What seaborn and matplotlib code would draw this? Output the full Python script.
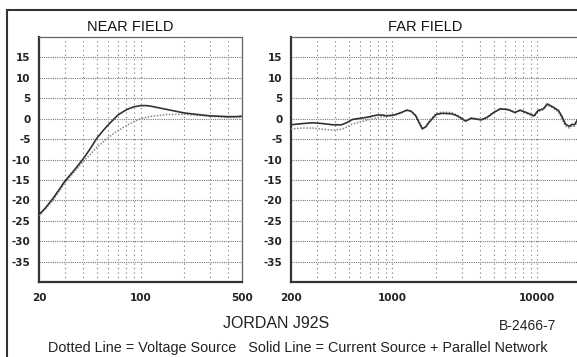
import numpy as np
import pandas as pd
import seaborn as sns
import matplotlib.pyplot as plt
from matplotlib.patches import Rectangle

# near field (20-500 Hz)
near_solid_f = [20, 22, 25, 28, 30, 35, 40, 45, 50, 55, 60, 66, 70, 80, 90, 100, 110, 120, 150, 200, 250, 300, 400, 450, 500]
near_solid_db = [-23.5, -22, -19.5, -17, -15.4, -12.6, -10, -7.4, -4.8, -3.0, -1.5, 0, 0.9, 2.2, 2.9, 3.2, 3.2, 3.0, 2.3, 1.4, 1.0, 0.7, 0.5, 0.5, 0.6]
near_dot_f = [20, 25, 30, 35, 40, 45, 50, 55, 60, 70, 80, 90, 100, 120, 150, 200, 300, 400, 500]
near_dot_db = [-23.8, -20, -15.8, -13, -10.6, -8.8, -7.0, -5.8, -4.6, -2.9, -1.7, -0.7, 0.0, 0.6, 1.0, 1.1, 0.6, 0.3, 0.3]

# far field (200-20000 Hz)
far_f = [200, 240, 283, 330, 388, 446, 490, 530, 600, 660, 720, 790, 850, 910, 1030, 1150, 1260, 1350,
         1450, 1530, 1610, 1700, 1790, 2000, 2200, 2560, 2800, 2950, 3200, 3500, 3800, 4100, 4500, 5000,
         5550, 6300, 7000, 7600, 8400, 9500, 10100, 11000, 11700, 12300, 12900, 14000, 14800, 15600,
         16600, 17300, 18000, 19000, 20000]
far_solid_db = [-1.5, -1.2, -1.0, -1.2, -1.5, -1.5, -0.9, -0.2, 0.1, 0.3, 0.6, 0.9, 0.9, 0.7, 0.9, 1.5, 2.1, 1.8,
                0.7, -1.0, -2.5, -2.0, -0.9, 1.0, 1.3, 1.2, 0.7, 0.2, -0.6, 0.1, -0.1, -0.3, 0.3, 1.5,
                2.4, 2.2, 1.5, 2.1, 1.5, 0.7, 2.0, 2.4, 3.6, 3.2, 2.8, 2.0, 0.5, -1.3,
                -1.9, -1.4, -1.5, -0.2, 0.8]
far_dot_db = [-2.5, -2.3, -2.3, -2.6, -2.8, -2.6, -2.0, -1.3, -0.8, -0.4, -0.1, 0.2, 0.5, 0.6, 0.8, 1.4, 2.0, 1.8,
              0.8, -0.8, -2.3, -1.9, -0.7, 1.3, 1.6, 1.5, 0.9, 0.3, -0.5, 0.2, 0.0, -0.2, 0.4, 1.6,
              2.5, 2.3, 1.6, 2.0, 1.3, 0.5, 1.7, 2.2, 3.3, 3.0, 2.5, 1.6, 0.0, -1.8,
              -2.3, -1.8, -1.9, -0.6, 0.5]

y_ticks = [-35, -30, -25, -20, -15, -10, -5, 0, 5, 10, 15]
near_major = [20, 100, 500]
near_minor = [30, 40, 50, 60, 70, 80, 90, 200, 300, 400]
far_major = [200, 1000, 10000]
far_minor = [300, 400, 500, 600, 700, 800, 900, 2000, 3000, 4000, 5000, 6000, 7000, 8000, 9000]

sns.set_style("white")
plt.rcParams['font.family'] = ['Liberation Sans', 'DejaVu Sans']

W, H = 577, 357
fig = plt.figure(figsize=(W / 100, H / 100), dpi=100)

def px_axes(x0, x1, y0, y1):
    return fig.add_axes([x0 / W, 1 - y1 / H, (x1 - x0) / W, (y1 - y0) / H])

ax1 = px_axes(39, 242, 37, 282)
ax2 = px_axes(291, 581, 37, 282)

def style(ax, xlim, major, minor):
    ax.set_xscale('log')
    ax.set_xlim(*xlim)
    ax.set_ylim(-40, 20)
    ax.set_yticks(y_ticks)
    ax.set_yticklabels([str(v) for v in y_ticks], fontfamily='DejaVu Sans', fontweight='bold', fontsize=7.5)
    ax.set_xticks(major)
    ax.set_xticklabels([str(v) for v in major], fontfamily='DejaVu Sans', fontweight='bold', fontsize=7.5)
    ax.set_xticks(minor, minor=True)
    ax.set_xticklabels([], minor=True)
    ax.tick_params(axis='y', length=5, width=0.9, color='#333333', pad=1, labelcolor='#222222')
    ax.tick_params(axis='x', which='major', length=6, width=1, color='#333333', pad=2, labelcolor='#222222')
    ax.tick_params(axis='x', which='minor', length=4, width=0.9, color='#333333')
    for v in y_ticks:
        ax.axhline(v, color='#777777', lw=0.8, ls=(0, (1, 1)), zorder=1)
    for v in list(major) + list(minor):
        ax.axvline(v, color='#777777', lw=0.8, ls=(0, (1, 3)), zorder=1)
    for s in ['left', 'bottom']:
        ax.spines[s].set_linewidth(1.6)
        ax.spines[s].set_color('#333333')
    for s in ['top', 'right']:
        ax.spines[s].set_linewidth(0.9)
        ax.spines[s].set_color('#666666')
    ax.set_xlabel('')
    ax.set_ylabel('')

sns.lineplot(x=near_dot_f, y=near_dot_db, ax=ax1, color='#888888', lw=1.1, ls=(0, (1, 1)), zorder=3)
sns.lineplot(x=near_solid_f, y=near_solid_db, ax=ax1, color='#333333', lw=1.2, zorder=4)
sns.lineplot(x=far_f, y=far_dot_db, ax=ax2, color='#888888', lw=1.1, ls=(0, (1, 1)), zorder=3)
sns.lineplot(x=far_f, y=far_solid_db, ax=ax2, color='#333333', lw=1.2, zorder=4)

style(ax1, (20, 500), near_major, near_minor)
style(ax2, (200, 20000), far_major, far_minor)

# outer frame
fig.add_artist(Rectangle((7 / W, -0.1), 2, 1 - 10 / H + 0.1, transform=fig.transFigure,
                         fill=False, lw=1.5, ec='#333333', clip_on=False))

fig.text(130 / W, 1 - 27 / H, 'NEAR FIELD', ha='center', va='center', fontsize=10.5, color='#111111')
fig.text(425 / W, 1 - 27 / H, 'FAR FIELD', ha='center', va='center', fontsize=10.5, color='#111111')
fig.text(276 / W, 1 - 323 / H, 'JORDAN J92S', ha='center', va='center', fontsize=11.5, color='#222222')
fig.text(528 / W, 1 - 326 / H, 'B-2466-7', ha='center', va='center', fontsize=10, color='#222222')
fig.text(298 / W, 1 - 348 / H,
         'Dotted Line = Voltage Source   Solid Line = Current Source + Parallel Network',
         ha='center', va='center', fontsize=10.4, color='#222222')

fig.savefig('out.png', dpi=100)
